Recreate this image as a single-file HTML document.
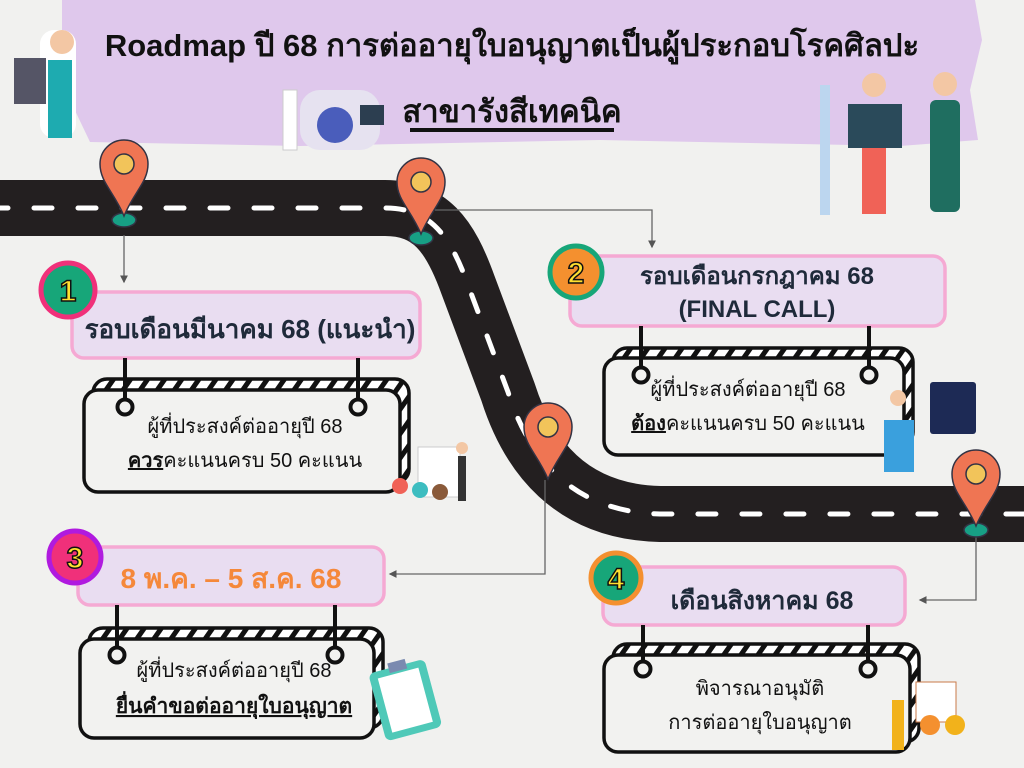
<!DOCTYPE html>
<html><head><meta charset="utf-8"><style>
body{margin:0;width:1024px;height:768px;overflow:hidden;background:#f1f1ef;}
svg{display:block}
text{font-family:"Liberation Sans","Noto Sans CJK SC","WenQuanYi Zen Hei",sans-serif;}
</style></head><body>
<svg width="1024" height="768" viewBox="0 0 1024 768" xmlns="http://www.w3.org/2000/svg">
<defs>
<pattern id="h" width="14" height="14" patternUnits="userSpaceOnUse" patternTransform="rotate(35)">
<rect width="14" height="14" fill="#fff"/><rect width="5" height="14" fill="#111"/></pattern>
<marker id="a" markerWidth="6" markerHeight="6" refX="5" refY="3" orient="auto"><path d="M0,0 L6,3 L0,6z" fill="#555"/></marker>
</defs>
<path d="M62 0 H975 L982 40 L970 90 L978 140 L900 146 L600 140 L300 146 L90 142 L70 100 L62 40Z" fill="#dfc8ec"/>
<text x="512" y="56" text-anchor="middle" font-size="31" font-weight="bold" fill="#111">Roadmap ปี 68 การต่ออายุใบอนุญาตเป็นผู้ประกอบโรคศิลปะ</text>
<text x="512" y="122" text-anchor="middle" font-size="31" font-weight="bold" fill="#111">สาขารังสีเทคนิค</text>
<rect x="410" y="128" width="204" height="4" fill="#111"/>
<rect x="40" y="30" width="36" height="108" rx="14" fill="#fff"/><circle cx="62" cy="42" r="12" fill="#f3c7a4"/><rect x="48" y="60" width="24" height="78" fill="#1eabb0"/><rect x="14" y="58" width="32" height="46" fill="#556"/>
<rect x="300" y="90" width="80" height="60" rx="20" fill="#e6e2f0"/><circle cx="335" cy="125" r="18" fill="#4a5dbb"/><rect x="360" y="105" width="24" height="20" fill="#2c3e50"/><rect x="283" y="90" width="14" height="60" fill="#fff" stroke="#ccc"/>
<rect x="820" y="85" width="10" height="130" fill="#bcd6ef"/><rect x="848" y="104" width="54" height="44" fill="#2a4a5a"/><rect x="862" y="148" width="24" height="66" fill="#f06257"/><circle cx="874" cy="85" r="12" fill="#f3c7a4"/>
<rect x="930" y="100" width="30" height="112" rx="6" fill="#1f6e60"/><circle cx="945" cy="84" r="12" fill="#f3c7a4"/>
<path d="M-10 208 L385 208 C430 208 450 235 468 285 L508 392 C528 455 570 512 660 514 L1030 514" fill="none" stroke="#231f20" stroke-width="56"/>
<path d="M-10 208 L385 208 C430 208 450 235 468 285 L508 392 C528 455 570 512 660 514 L1030 514" fill="none" stroke="#fff" stroke-width="5" stroke-dasharray="18 26" stroke-linecap="round"/>
<g stroke="#666" stroke-width="1.3" fill="none">
<path d="M124 235 V282" marker-end="url(#a)"/>
<path d="M435 210 H652 V247" marker-end="url(#a)"/>
<path d="M545 480 V574 H390" marker-end="url(#a)"/>
<path d="M976 535 V600 H920" marker-end="url(#a)"/>
</g>
<g stroke="#334" stroke-width="1.5">
<g transform="translate(124,172)"><ellipse cx="0" cy="48" rx="12" ry="7" fill="#17a085"/><path d="M0 44 C-10 20 -24 10 -24 -8 A24 24 0 0 1 24 -8 C24 10 10 20 0 44Z" fill="#ef7553"/><circle cx="0" cy="-8" r="10" fill="#f2c45a"/></g>
<g transform="translate(421,190)"><ellipse cx="0" cy="48" rx="12" ry="7" fill="#17a085"/><path d="M0 44 C-10 20 -24 10 -24 -8 A24 24 0 0 1 24 -8 C24 10 10 20 0 44Z" fill="#ef7553"/><circle cx="0" cy="-8" r="10" fill="#f2c45a"/></g>
<g transform="translate(548,435)"><path d="M0 44 C-10 20 -24 10 -24 -8 A24 24 0 0 1 24 -8 C24 10 10 20 0 44Z" fill="#ef7553"/><circle cx="0" cy="-8" r="10" fill="#f2c45a"/></g>
<g transform="translate(976,482)"><ellipse cx="0" cy="48" rx="12" ry="7" fill="#17a085"/><path d="M0 44 C-10 20 -24 10 -24 -8 A24 24 0 0 1 24 -8 C24 10 10 20 0 44Z" fill="#ef7553"/><circle cx="0" cy="-8" r="10" fill="#f2c45a"/></g>
</g>
<g stroke="#111" stroke-width="3.5">
<rect x="93" y="379" width="316" height="104" rx="14" fill="url(#h)"/><rect x="84" y="390" width="316" height="102" rx="14" fill="#f2f2f0"/>
<rect x="613" y="348" width="300" height="98" rx="14" fill="url(#h)"/><rect x="604" y="358" width="300" height="97" rx="14" fill="#f2f2f0"/>
<rect x="89" y="628" width="294" height="100" rx="14" fill="url(#h)"/><rect x="80" y="639" width="294" height="99" rx="14" fill="#f2f2f0"/>
<rect x="613" y="644" width="306" height="98" rx="14" fill="url(#h)"/><rect x="604" y="655" width="306" height="97" rx="14" fill="#f2f2f0"/>
</g>
<g fill="#e9ddf1" stroke="#f5a9d3" stroke-width="3.5">
<rect x="72" y="292" width="348" height="66" rx="12"/>
<rect x="570" y="256" width="375" height="70" rx="12"/>
<rect x="78" y="547" width="306" height="58" rx="12"/>
<rect x="603" y="567" width="302" height="58" rx="12"/>
</g>
<g stroke="#111" stroke-width="4" fill="#f2f2f0">
<path d="M125 358 V400 M358 358 V400 M641 326 V368 M869 326 V368 M117 605 V648 M335 605 V648 M643 625 V662 M868 625 V662"/>
<circle cx="125" cy="407" r="7.5"/><circle cx="358" cy="407" r="7.5"/>
<circle cx="641" cy="375" r="7.5"/><circle cx="869" cy="375" r="7.5"/>
<circle cx="117" cy="655" r="7.5"/><circle cx="335" cy="655" r="7.5"/>
<circle cx="643" cy="669" r="7.5"/><circle cx="868" cy="669" r="7.5"/>
</g>
<circle cx="68" cy="290" r="27" fill="#17a679" stroke="#f0307a" stroke-width="5"/>
<circle cx="576" cy="272" r="26" fill="#f4902f" stroke="#17a679" stroke-width="5"/>
<circle cx="75" cy="557" r="26" fill="#f0307a" stroke="#b01adf" stroke-width="5"/>
<circle cx="616" cy="578" r="25" fill="#17a679" stroke="#f4902f" stroke-width="5"/>
<g font-size="30" font-weight="bold" fill="#ffe030" stroke="#111" stroke-width="1.5" text-anchor="middle">
<text x="68" y="301">1</text><text x="576" y="283">2</text><text x="75" y="568">3</text><text x="616" y="589">4</text></g>
<g font-weight="bold" text-anchor="middle" fill="#1f2a3a">
<text x="250" y="338" font-size="26">รอบเดือนมีนาคม 68 (แนะนำ)</text>
<text x="757" y="284" font-size="24">รอบเดือนกรกฎาคม 68</text>
<text x="757" y="317" font-size="24">(FINAL CALL)</text>
<text x="231" y="588" font-size="28" fill="#f5883a">8 พ.ค. – 5 ส.ค. 68</text>
<text x="762" y="609" font-size="25">เดือนสิงหาคม 68</text>
</g>
<g font-size="20" text-anchor="middle" fill="#111">
<text x="245" y="433">ผู้ที่ประสงค์ต่ออายุปี 68</text>
<text x="245" y="467"><tspan font-weight="bold" text-decoration="underline">ควร</tspan>คะแนนครบ 50 คะแนน</text>
<text x="748" y="396">ผู้ที่ประสงค์ต่ออายุปี 68</text>
<text x="748" y="430"><tspan font-weight="bold" text-decoration="underline">ต้อง</tspan>คะแนนครบ 50 คะแนน</text>
<text x="234" y="677">ผู้ที่ประสงค์ต่ออายุปี 68</text>
<text x="234" y="713" font-size="21" font-weight="bold" text-decoration="underline">ยื่นคำขอต่ออายุใบอนุญาต</text>
<text x="760" y="695">พิจารณาอนุมัติ</text>
<text x="760" y="729">การต่ออายุใบอนุญาต</text>
</g>
<rect x="418" y="447" width="42" height="50" fill="#fff" stroke="#ccc"/><circle cx="400" cy="486" r="8" fill="#f06257"/><circle cx="420" cy="490" r="8" fill="#3dbdc0"/><circle cx="440" cy="492" r="8" fill="#8a5a3a"/><circle cx="462" cy="448" r="6" fill="#f3c7a4"/><rect x="458" y="456" width="8" height="45" fill="#333"/>
<rect x="884" y="420" width="30" height="52" fill="#3aa0dd"/><circle cx="898" cy="398" r="8" fill="#f3c7a4"/><rect x="930" y="382" width="46" height="52" rx="3" fill="#1d2a55"/>
<g transform="rotate(-15 405 695)"><rect x="375" y="665" width="58" height="70" rx="6" fill="#4fc9b8"/><rect x="383" y="672" width="42" height="56" fill="#fff"/><rect x="396" y="660" width="18" height="10" fill="#7a8ab0"/></g>
<rect x="916" y="682" width="40" height="40" fill="#fff" stroke="#c97a4a"/><rect x="892" y="700" width="12" height="50" fill="#f2b21b"/><circle cx="930" cy="725" r="10" fill="#f4902f"/><circle cx="955" cy="725" r="10" fill="#f2b21b"/>
</svg>
</body></html>
